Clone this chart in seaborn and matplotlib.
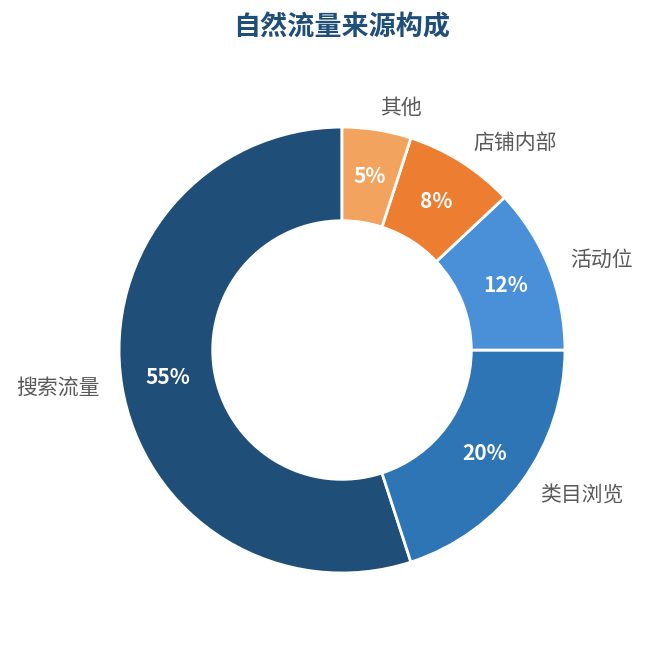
import matplotlib
matplotlib.use("Agg")
import matplotlib.pyplot as plt
import seaborn as sns

sns.set_theme(style="white")
plt.rcParams['font.family'] = ['Noto Sans CJK SC', 'DejaVu Sans']

categories = ["搜索流量", "类目浏览", "活动位", "店铺内部", "其他"]
values = [55, 20, 12, 8, 5]
colors = ["#1f4e79", "#2e75b6", "#4a90d9", "#ed7d31", "#f2a35e"]
title = "自然流量来源构成"

fig = plt.figure(figsize=(6.49, 6.45), dpi=100)
ax = fig.add_axes([0.0, 0.0, 1.0, 1.0])
wedges, texts, autotexts = ax.pie(
    values, labels=categories, colors=colors, startangle=90, counterclock=True,
    autopct=lambda p: f"{p:.0f}%", pctdistance=0.79, labeldistance=1.1,
    wedgeprops=dict(width=0.42, edgecolor="white", linewidth=2),
    textprops=dict(fontsize=15, color="#595959"),
    radius=1.0,
)
for t in autotexts:
    t.set_color("white")
    t.set_fontweight("bold")
    t.set_fontsize(15)
ax.set_aspect("equal")
ax.set_xlim(-1.534, 1.377)
ax.set_ylim(-1.323, 1.570)
fig.text(0.527, 0.957, title, fontsize=19.5, fontweight="bold", color="#1f4e79",
         ha="center", va="center")
fig.savefig("out.png", dpi=100)
